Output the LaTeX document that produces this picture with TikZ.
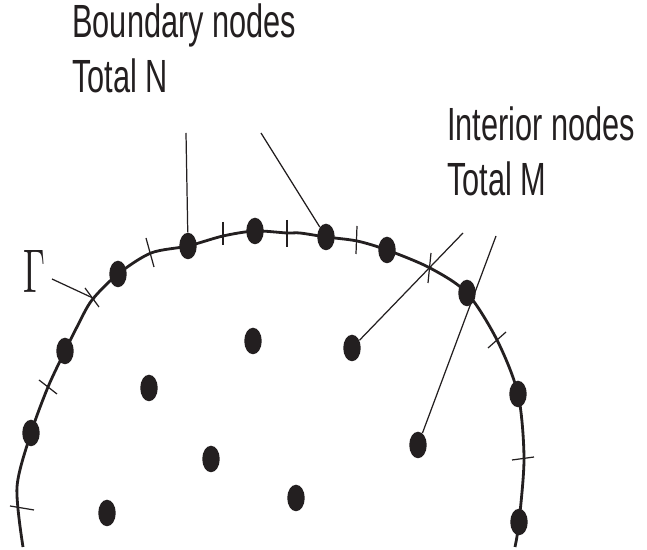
\documentclass[tikz,border=0pt]{standalone}
\usepackage{fontspec}
\usepackage{graphicx}
\usetikzlibrary{shapes.geometric}
\newfontfamily\etiqueta[FakeStretch=0.66]{Liberation Sans}
\definecolor{tinta}{HTML}{231F20}
\tikzset{
  nodo/.style={ellipse, fill=tinta, inner sep=0pt, minimum width=0.35cm, minimum height=0.53cm},
  guia/.style={draw=tinta, line width=0.7pt},
  marca/.style={draw=tinta, line width=0.7pt},
  texto/.style={anchor=base west, inner sep=0pt, text=tinta, font=\etiqueta\fontsize{26.5}{30}\selectfont}
}

\begin{document}
\begin{tikzpicture}[x=0.02cm, y=-0.02cm]
				\useasboundingbox (0,0) rectangle (647,550);
				% Frontera
				\draw[tinta, line width=1.6pt] plot[smooth, tension=0.5] coordinates {(23,547) (17,487) (31,433) (48,387) (65,351) (78,325) (92,300) (118,274) (151,253) (188,246) (223,236) (255,231) (287,233) (300,233) (326,237) (357,241) (387,250) (430,268) (467,293) (497,340) (518,394) (524,458) (519,522) (515,547)};
				% Marcas
				\draw[marca] (10,506) -- (34,510);
				\draw[marca] (39,380) -- (57,394);
				\draw[marca] (85,288) -- (99,307);
				\draw[marca] (146,238) -- (154,267);
				\draw[marca] (223,222) -- (223,245);
				\draw[marca] (287,220) -- (287,247);
				\draw[marca] (357,226) -- (356,254);
				\draw[marca] (431,253) -- (428,283);
				\draw[marca] (488,348) -- (506,332);
				\draw[marca] (512,460) -- (534,457);

				% Nodos de frontera
				\node[nodo] (b1) at (31,433) {};
				\node[nodo] (b2) at (65,351) {};
				\node[nodo] (b3) at (118,274) {};
				\node[nodo] (b4) at (188,246) {};
				\node[nodo] (b5) at (255,231) {};
				\node[nodo] (b6) at (326,237) {};
				\node[nodo] (b7) at (387,250) {};
				\node[nodo] (b8) at (467,293) {};
				\node[nodo] (b9) at (518,394) {};
				\node[nodo] (b10) at (519,522) {};

				% Nodos interiores
				\node[nodo] (i1) at (253,341) {};
				\node[nodo] (i2) at (149,388) {};
				\node[nodo] (i3) at (352,348) {};
				\node[nodo] (i4) at (211,459) {};
				\node[nodo] (i5) at (418,445) {};
				\node[nodo] (i6) at (107,513) {};
				\node[nodo] (i7) at (296,498) {};

				% Etiquetas
				\node[texto] (tb1) at (72,38) {Boundary nodes};
				\node[texto] (tb2) at (72,93) {Total N};
				\node[texto] (ti1) at (447,141) {Interior nodes};
				\node[texto] (ti2) at (447,196) {Total M};
				\node[anchor=base, inner sep=0pt, text=tinta] (gamma) at (34.5,293) {\resizebox{0.44cm}{0.84cm}{Γ}};

				% Lineas guia
				\coordinate (pb1) at (186,133);
				\coordinate (pb2) at (261,133);
				\coordinate (pi1) at (463,233);
				\coordinate (pi2) at (496,236);
				\coordinate (pg1) at (52,279);
				\coordinate (pg2) at (95,299);
				\draw[guia] (pb1) -- (b4);
				\draw[guia] (pb2) -- (b6);
				\draw[guia] (pi1) -- (i3);
				\draw[guia] (pi2) -- (i5);
				\draw[guia] (pg1) -- (pg2);


			\end{tikzpicture}
\end{document}
